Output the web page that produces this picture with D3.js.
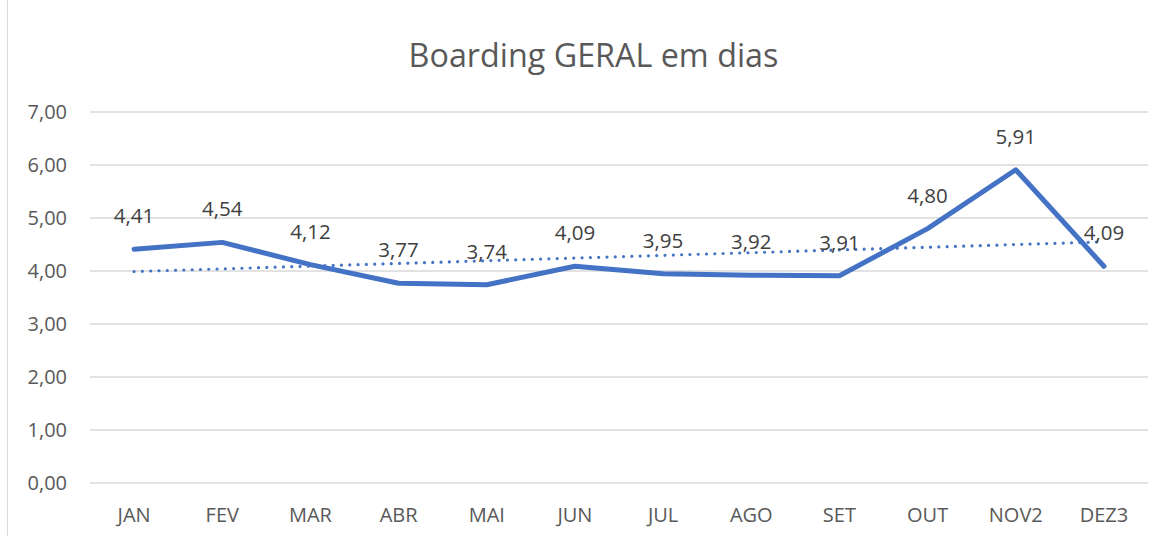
<!DOCTYPE html>
<html>
<head>
<meta charset="utf-8">
<script src="https://cdn.jsdelivr.net/npm/d3@7"></script>
<style>
  body { margin: 0; background: #fff; }
  text { font-family: "Open Sans", sans-serif; }
</style>
</head>
<body>
<svg width="1166" height="536"></svg>
<script>
const months = ["JAN", "FEV", "MAR", "ABR", "MAI", "JUN", "JUL", "AGO", "SET", "OUT", "NOV2", "DEZ3"];
const boarding = [4.41, 4.54, 4.12, 3.77, 3.74, 4.09, 3.95, 3.92, 3.91, 4.80, 5.91, 4.09];
// linear trendline, read at first and last month
const trendEnds = [3.99, 4.55];
const yTicks = [0, 1, 2, 3, 4, 5, 6, 7];

const svg = d3.select("svg"),
      margin = {top: 112, right: 18, bottom: 53, left: 90},
      width = 1166 - margin.left - margin.right,
      height = 536 - margin.top - margin.bottom;

const fmt = v => d3.format(".2f")(v).replace(".", ",");

// chart border
svg.append("rect")
  .attr("x", 7.5).attr("y", -1)
  .attr("width", 1170).attr("height", 540)
  .attr("fill", "none")
  .attr("stroke", "#d9d9d9");

svg.append("text")
  .attr("x", 593.5)
  .attr("y", 67)
  .attr("text-anchor", "middle")
  .attr("fill", "#595959")
  .style("font-size", "32.3px")
  .text("Boarding GERAL em dias");

const g = svg.append("g").attr("transform", `translate(${margin.left},${margin.top})`);

const x = d3.scaleBand().domain(months).range([0, width]);
const y = d3.scaleLinear().domain([0, 7]).range([height, 0]);

// grid
g.append("g")
  .selectAll("line")
  .data(yTicks)
  .join("line")
  .attr("x1", 0).attr("x2", width)
  .attr("y1", d => y(d)).attr("y2", d => y(d))
  .attr("stroke", "#d9d9d9")
  .attr("stroke-width", 1.3);

const yAxis = g.append("g")
  .call(d3.axisLeft(y).tickValues(yTicks).tickFormat(fmt).tickSize(0).tickPadding(23));
yAxis.select(".domain").remove();
yAxis.selectAll("text")
  .attr("fill", "#595959")
  .style("font-size", "20px")
  .style("font-family", "Open Sans");

const xAxis = g.append("g")
  .attr("transform", `translate(0,${height})`)
  .call(d3.axisBottom(x).tickSize(0).tickPadding(24.5));
xAxis.select(".domain").remove();
xAxis.selectAll("text")
  .attr("fill", "#595959")
  .style("font-size", "20px")
  .style("font-family", "Open Sans");

const cx = d => x(d) + x.bandwidth() / 2;

// trendline
g.append("line")
  .attr("x1", cx(months[0]))
  .attr("x2", cx(months[months.length - 1]))
  .attr("y1", y(trendEnds[0]))
  .attr("y2", y(trendEnds[1]))
  .attr("stroke", "#4472c4")
  .attr("stroke-width", 3.2)
  .attr("stroke-linecap", "round")
  .attr("stroke-dasharray", "0,8.3");

const line = d3.line()
  .x((d, i) => cx(months[i]))
  .y(d => y(d));

g.append("path")
  .datum(boarding)
  .attr("fill", "none")
  .attr("stroke", "#4472c4")
  .attr("stroke-width", 5)
  .attr("stroke-linejoin", "round")
  .attr("stroke-linecap", "round")
  .attr("d", line);

g.selectAll("text.label")
  .data(boarding)
  .join("text")
  .attr("class", "label")
  .attr("x", (d, i) => cx(months[i]))
  .attr("y", d => y(d) - 26)
  .attr("text-anchor", "middle")
  .attr("fill", "#404040")
  .style("font-size", "20.5px")
  .text(d => fmt(d));
</script>
</body>
</html>
